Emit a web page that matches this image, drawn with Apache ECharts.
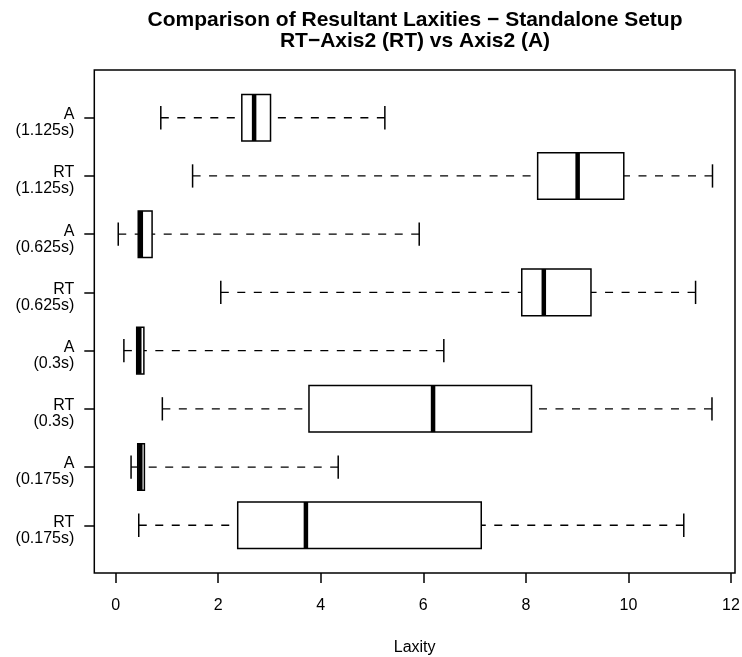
<!DOCTYPE html>
<html>
<head>
<meta charset="utf-8">
<script src="https://cdn.jsdelivr.net/npm/echarts@6/dist/echarts.min.js"></script>
<style>
  html, body { margin: 0; padding: 0; background: #fff; }
  #chart { width: 742px; height: 657px; }
</style>
</head>
<body>
<div id="chart"></div>
<script>
    // 数据（从下到上）
    var categories = ['RT\n(0.175s)', 'A\n(0.175s)', 'RT\n(0.3s)', 'A\n(0.3s)', 'RT\n(0.625s)', 'A\n(0.625s)', 'RT\n(1.125s)', 'A\n(1.125s)'];
    var lowWhisker = [0.45, 0.30, 0.91, 0.16, 2.05, 0.05, 1.50, 0.88];
    var q1 = [2.38, 0.43, 3.77, 0.41, 7.92, 0.44, 8.23, 2.46];
    var median = [3.71, 0.48, 6.19, 0.46, 8.35, 0.49, 9.01, 2.70];
    var q3 = [7.13, 0.56, 8.11, 0.55, 9.27, 0.71, 9.91, 3.02];
    var highWhisker = [11.08, 4.34, 11.63, 6.40, 11.31, 5.92, 11.64, 5.25];
    var xTicks = [0, 2, 4, 6, 8, 10, 12];
    var yTicks = [1, 2, 3, 4, 5, 6, 7, 8];

    var font = '"Liberation Sans", Arial, Helvetica, sans-serif';

    var boxData = categories.map(function (c, i) {
        return [i + 1, lowWhisker[i], q1[i], median[i], q3[i], highWhisker[i]];
    });

    function renderItem(params, api) {
        var y = api.value(0);
        var pLo = api.coord([api.value(1), y]);
        var pQ1 = api.coord([api.value(2), y]);
        var pMed = api.coord([api.value(3), y]);
        var pQ3 = api.coord([api.value(4), y]);
        var pHi = api.coord([api.value(5), y]);
        var halfBox = api.size([0, 0.4])[1];
        var halfStaple = api.size([0, 0.2])[1];
        var cy = pMed[1];
        var thin = { stroke: '#000', lineWidth: 1.5 };
        var dashed = { stroke: '#000', lineWidth: 1.3, lineDash: [8, 8.5] };
        return {
            type: 'group',
            children: [
                { type: 'line', shape: { x1: pLo[0], y1: cy, x2: pQ1[0], y2: cy }, style: dashed },
                { type: 'line', shape: { x1: pHi[0], y1: cy, x2: pQ3[0], y2: cy }, style: dashed },
                { type: 'line', shape: { x1: pLo[0], y1: cy - halfStaple, x2: pLo[0], y2: cy + halfStaple }, style: thin },
                { type: 'line', shape: { x1: pHi[0], y1: cy - halfStaple, x2: pHi[0], y2: cy + halfStaple }, style: thin },
                { type: 'rect', shape: { x: pQ1[0], y: cy - halfBox, width: pQ3[0] - pQ1[0], height: halfBox * 2 },
                  style: { fill: '#fff', stroke: '#000', lineWidth: 1.5 } },
                { type: 'line', shape: { x1: pMed[0], y1: cy - halfBox, x2: pMed[0], y2: cy + halfBox },
                  style: { stroke: '#000', lineWidth: 4.5 } }
            ]
        };
    }

    var myChart = echarts.init(document.getElementById('chart'));
    var option = {
        animation: false,
        backgroundColor: '#fff',
        graphic: [
            { type: 'text', style: { text: 'Comparison of Resultant Laxities − Standalone Setup', x: 415, y: 20,
                align: 'center', verticalAlign: 'middle', font: 'bold 21px ' + font, fill: '#000' } },
            { type: 'text', style: { text: 'RT−Axis2 (RT) vs Axis2 (A)', x: 415, y: 41,
                align: 'center', verticalAlign: 'middle', font: 'bold 21px ' + font, fill: '#000' } }
        ],
        grid: {
            left: 94.3, right: 7, top: 70, bottom: 84,
            outerBoundsMode: 'none',
            containLabel: false,
            show: true, borderColor: '#000', borderWidth: 1.5
        },
        xAxis: {
            type: 'value',
            min: -0.417,
            max: 12.079,
            name: 'Laxity',
            nameLocation: 'middle',
            nameGap: 67,
            nameTextStyle: { color: '#000', fontSize: 16, fontFamily: font },
            axisLine: { show: false, onZero: false },
            axisTick: { show: true, inside: false, length: 10, customValues: xTicks,
                        lineStyle: { color: '#000', width: 1.5 } },
            axisLabel: { customValues: xTicks, margin: 25, color: '#000', fontSize: 16, fontFamily: font },
            splitLine: { show: false }
        },
        yAxis: {
            type: 'value',
            min: 0.18,
            max: 8.82,
            axisLine: { show: false, onZero: false },
            axisTick: { show: true, inside: false, length: 10, customValues: yTicks,
                        lineStyle: { color: '#000', width: 1.5 } },
            axisLabel: {
                customValues: yTicks,
                margin: 20,
                color: '#000',
                fontSize: 16,
                lineHeight: 16,
                fontFamily: font,
                align: 'right',
                rich: {
                    s: { fontSize: 1, lineHeight: 10 },
                    t: { fontSize: 16, lineHeight: 16, fontFamily: font, color: '#000', align: 'right' }
                },
                formatter: function (v) {
                    var c = categories[Math.round(v) - 1];
                    if (!c) return '';
                    return '{s| }\n' + c.split('\n').map(function (l) { return '{t|' + l + '}'; }).join('\n');
                }
            },
            splitLine: { show: false }
        },
        series: [{
            type: 'custom',
            renderItem: renderItem,
            encode: { x: [1, 2, 3, 4, 5], y: 0 },
            data: boxData,
            silent: true
        }]
    };
    myChart.setOption(option);
</script>
</body>
</html>
